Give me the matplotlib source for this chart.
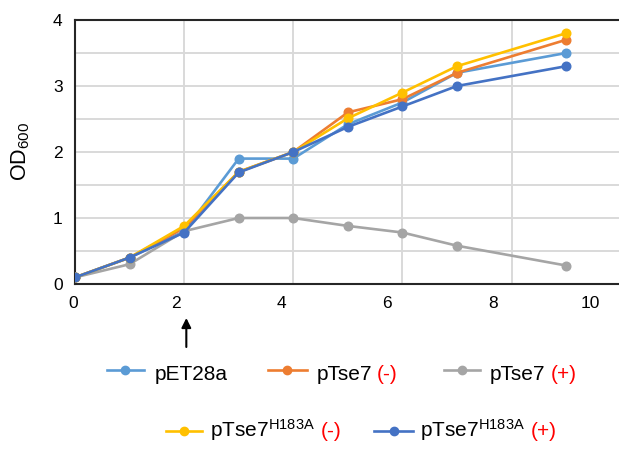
import matplotlib
matplotlib.use("Agg")
import matplotlib.pyplot as plt
from matplotlib.lines import Line2D
from matplotlib.transforms import ScaledTranslation

plt.rcParams['font.family'] = ['Liberation Sans', 'DejaVu Sans']
plt.rcParams['mathtext.fontset'] = 'custom'
plt.rcParams['mathtext.rm'] = 'Liberation Sans'
plt.rcParams['mathtext.it'] = 'Liberation Sans:italic'
plt.rcParams['mathtext.bf'] = 'Liberation Sans:bold'

# ---- data ----
time_h = [0, 1, 2, 3, 4, 5, 6, 7, 9]
pET28a = [0.1, 0.4, 0.8, 1.9, 1.9, 2.42, 2.75, 3.2, 3.5]
pTse7_minus = [0.1, 0.4, 0.85, 1.7, 2.0, 2.6, 2.8, 3.2, 3.7]
pTse7_plus = [0.1, 0.3, 0.8, 1.0, 1.0, 0.88, 0.78, 0.58, 0.28]
pTse7H_minus = [0.1, 0.4, 0.88, 1.7, 2.0, 2.51, 2.9, 3.3, 3.8]
pTse7H_plus = [0.1, 0.4, 0.78, 1.69, 2.0, 2.38, 2.69, 3.0, 3.3]

series = [pET28a, pTse7_minus, pTse7_plus, pTse7H_minus, pTse7H_plus]
labels_black = ["pET28a", "pTse7", "pTse7", r"pTse7$^{\mathrm{H183A}}$", r"pTse7$^{\mathrm{H183A}}$"]
labels_red = ["", "(-)", "(+)", "(-)", "(+)"]
colors = ["#5B9BD5", "#ED7D31", "#A5A5A5", "#FFC000", "#4472C4"]

x_ticks = [0, 2, 4, 6, 8, 10]
y_ticks = [0, 1, 2, 3, 4]

W, H = 619, 450
fig = plt.figure(figsize=(W / 100, H / 100), dpi=100)
ax = fig.add_axes([75 / W, (H - 284) / H, 545.7 / W, 264 / H])

for ys, c in zip(series, colors):
    ax.plot(time_h, ys, color=c, lw=1.9, marker='o', ms=6.2, zorder=3,
            solid_capstyle='round')

ax.set_xlim(0, 10)
ax.set_ylim(0, 4)
ax.set_xticks(x_ticks)
ax.set_yticks(y_ticks)
ax.set_yticks([0.5, 1.5, 2.5, 3.5], minor=True)
ax.grid(True, which='major', color='#D9D9D9', lw=1.4, zorder=0)
ax.grid(True, which='minor', axis='y', color='#D9D9D9', lw=1.4, zorder=0)
ax.tick_params(axis='both', which='both', length=0, labelsize=12.5, colors='black')
ax.tick_params(axis='x', pad=9)
ax.tick_params(axis='y', pad=9)

# shift x tick labels as in reference
offsets_px = [-2, -8, -12, -15, -18, -30]
for lab, dx in zip(ax.get_xticklabels(), offsets_px):
    lab.set_transform(lab.get_transform() + ScaledTranslation(dx / 100, 0, fig.dpi_scale_trans))

for s in ['left', 'bottom', 'top']:
    ax.spines[s].set_color('#262626')
    ax.spines[s].set_linewidth(1.5)
ax.spines['right'].set_visible(False)

fig.text(20.7 / W, 1 - 151 / H, r"OD$_{\mathrm{600}}$", rotation=90, fontsize=15.5,
         ha='center', va='center')

# arrow at x = 2
ax.annotate("", xy=(2.04, H - 318), xycoords=('data', 'figure pixels'),
            xytext=(2.04, H - 347), textcoords=('data', 'figure pixels'),
            arrowprops=dict(arrowstyle='-|>', color='black', lw=1.5,
                            mutation_scale=14, shrinkA=0, shrinkB=0),
            annotation_clip=False)

# custom legend
handle_x = [(106.7, 144), (268, 306.7), (444, 480), (166, 201.7), (374, 413)]
text_x = [155, 316.7, 490, 210, 420]
row_handle_y = [80, 80, 80, 19.3, 19.3]
row_base_y = [70, 70, 70, 13.3, 13.3]

renderer = fig.canvas.get_renderer()
for i in range(5):
    x0, x1 = handle_x[i]
    hy = row_handle_y[i]
    fig.add_artist(Line2D([x0 / W, x1 / W], [hy / H, hy / H], color=colors[i], lw=1.9,
                          transform=fig.transFigure))
    fig.add_artist(Line2D([(x0 + x1) / 2 / W], [hy / H], color=colors[i], marker='o',
                          ms=6, transform=fig.transFigure))
    t = fig.text(text_x[i] / W, row_base_y[i] / H, labels_black[i], fontsize=15,
                 ha='left', va='baseline', color='black')
    if labels_red[i]:
        bb = t.get_window_extent(renderer)
        gap = 6 if '$' in labels_black[i] else 5
        fig.text((bb.x1 + gap) / W, row_base_y[i] / H, labels_red[i], fontsize=15,
                 ha='left', va='baseline', color='#FF0000')

fig.savefig("out.png", dpi=100)
